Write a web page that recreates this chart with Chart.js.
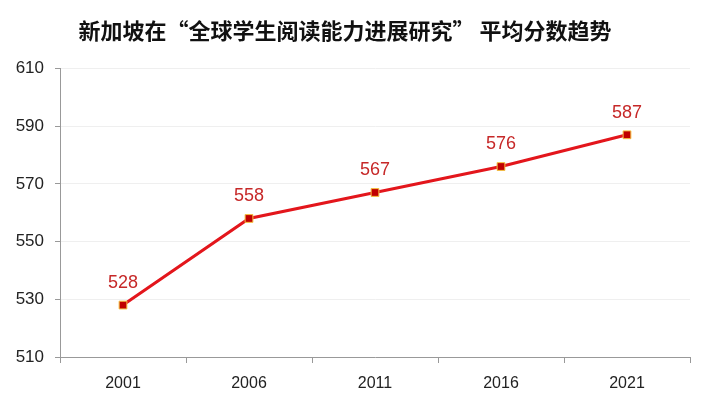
<!DOCTYPE html>
<html>
<head>
<meta charset="utf-8">
<script src="https://cdn.jsdelivr.net/npm/chart.js@4"></script>
<style>
  html, body { margin: 0; padding: 0; background: #fff; }
  #wrap { width: 703px; height: 398px; }
</style>
</head>
<body>
<div id="wrap"><canvas id="grafica"></canvas></div>
<script>
const years = ['2001', '2006', '2011', '2016', '2021'];
const scores = [528, 558, 567, 576, 587];
const yTicks = [510, 530, 550, 570, 590, 610];
const titulo = '新加坡在“全球学生阅读能力进展研究” 平均分数趋势';

const etiquetas = {
    id: 'etiquetas',
    afterDatasetsDraw(chart) {
        const ctx = chart.ctx;
        const meta = chart.getDatasetMeta(0);
        ctx.save();
        ctx.font = '18px "Liberation Sans", Arial, sans-serif';
        ctx.fillStyle = '#c62828';
        ctx.textAlign = 'center';
        ctx.textBaseline = 'middle';
        meta.data.forEach((pt, i) => {
            ctx.fillText(String(scores[i]), pt.x, pt.y - 22);
        });
        ctx.restore();
    }
};

const ctx = document.getElementById('grafica').getContext('2d');
new Chart(ctx, {
    type: 'line',
    data: {
        labels: years,
        datasets: [{
            data: scores,
            borderColor: '#e3161c',
            borderWidth: 3,
            pointStyle: 'rect',
            pointRadius: 5.5,
            pointBackgroundColor: '#c00000',
            pointBorderColor: '#f5c242',
            pointBorderWidth: 1,
            tension: 0
        }]
    },
    options: {
        responsive: true,
        maintainAspectRatio: false,
        animation: false,
        layout: { padding: { left: 0, right: 13, top: 0, bottom: 0 } },
        plugins: {
            legend: { display: false },
            tooltip: { enabled: false },
            title: {
                display: true,
                text: titulo,
                color: '#111',
                font: { family: '"Noto Sans CJK SC", sans-serif', size: 22, weight: 'bold' },
                padding: { top: 17, bottom: 25 }
            }
        },
        scales: {
            x: {
                offset: true,
                grid: { offset: true, drawOnChartArea: false, tickLength: 6, tickColor: '#999' },
                border: { color: '#999' },
                ticks: {
                    color: '#222',
                    padding: 11,
                    font: { family: '"Liberation Sans", Arial, sans-serif', size: 16 }
                },
                afterFit(scale) { scale.height = 41; }
            },
            y: {
                min: 510,
                max: 610,
                afterBuildTicks(scale) { scale.ticks = yTicks.map(v => ({ value: v })); },
                grid: { color: '#efefef', tickLength: 5, tickColor: '#999' },
                border: { color: '#999' },
                ticks: {
                    color: '#222',
                    padding: 11,
                    font: { family: '"Liberation Sans", Arial, sans-serif', size: 17 }
                },
                afterFit(scale) { scale.width = 60; }
            }
        }
    },
    plugins: [etiquetas]
});
</script>
</body>
</html>
